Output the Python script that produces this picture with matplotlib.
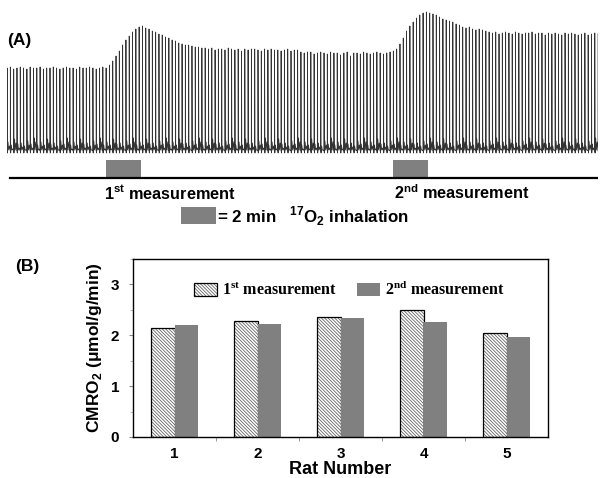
import matplotlib
matplotlib.use('Agg')
import matplotlib.pyplot as plt
import numpy as np
from matplotlib.patches import Rectangle

plt.rcParams['font.family'] = ['Liberation Sans', 'DejaVu Sans']
plt.rcParams['mathtext.fontset'] = 'custom'
plt.rcParams['mathtext.bf'] = 'Liberation Sans:bold'
plt.rcParams['mathtext.rm'] = 'Liberation Serif:bold'
plt.rcParams['hatch.linewidth'] = 0.6

# (A) trace: peak height of each beat (baseline = 0)
peaks = [80, 81, 79, 80, 81, 80, 79, 81, 80, 80, 81, 79, 80, 80, 81, 80, 79, 80, 81, 80,
         80, 79, 81, 80, 80, 81, 80, 79, 80, 81, 80,
         83, 87, 92, 97, 103, 108, 112, 116, 119, 121, 122,
         120, 119, 117, 116, 114, 113, 111, 110, 108, 107, 105, 104, 103, 103, 102, 101, 101, 100, 100,
         99, 100, 98, 99, 99, 98, 100, 99, 98, 99, 97, 99, 98, 99, 99, 98, 97, 99, 98, 99,
         98, 98, 97, 98, 99, 97, 98, 98,
         96, 95, 96, 96, 94, 95, 96, 95, 94, 96, 95, 95, 93, 95, 96, 92, 95, 95, 94, 96,
         95, 94, 95, 96, 95, 94, 95, 96, 97,
         99, 104, 110, 117, 122, 126, 130, 133, 135, 136,
         135, 134, 133, 131, 129, 128, 127, 126, 124, 123, 121, 120, 121, 119, 118, 119, 118, 117,
         116, 115, 116, 114, 115, 116, 115, 114, 116, 115, 114, 115, 115, 116, 114, 115, 115,
         113, 115, 114, 115, 114, 113, 115, 114, 115, 114, 113, 114, 115, 113, 114, 115, 114]
trace_minutes = 33.77
inhalation_starts = [5.66, 22.06]   # min
inhalation_len = 2.0                # min

# (B) bars
rats = [1, 2, 3, 4, 5]
first = [2.14, 2.29, 2.35, 2.49, 2.05]
second = [2.20, 2.23, 2.34, 2.26, 1.97]

fig = plt.figure(figsize=(6.03, 4.78), dpi=100)

# ---------------- panel A ----------------
axA = fig.add_axes([7/603, 1-230/478, 591/603, 220/478])
axA.set_xlim(0, trace_minutes)
axA.set_ylim(-82, 138)
axA.axis('off')

n = len(peaks)
P = trace_minutes / (n - 1)
bumps = [6, 3, 9, 4, 5, 2, 7, 4, 10, 3]
xs, ys = [], []
for i, pk in enumerate(peaks):
    t = i * P
    b = bumps[i % len(bumps)]
    xs += [t, t + 0.004, t + 0.02, t + 0.3*P, t + 0.5*P, t + 0.72*P]
    ys += [-3, pk, -5, b, -2, b - 4]
axA.plot(xs, ys, color='#333333', lw=0.6)

axA.plot([0.17, trace_minutes], [-30, -30], color='black', lw=1.6)
for s in inhalation_starts:
    axA.add_patch(Rectangle((s, -29), inhalation_len, 17, facecolor='#808080', edgecolor='none'))
axA.text(inhalation_starts[0] - 0.12, -45, '1$^{\\mathbf{st}}$ measurement', fontsize=11.7,
         fontweight='bold', ha='left', va='center')
axA.text(inhalation_starts[1] + 0.06, -45, '2$^{\\mathbf{nd}}$ measurement', fontsize=11.7,
         fontweight='bold', ha='left', va='center')
axA.add_patch(Rectangle((9.94, -76), inhalation_len, 17, facecolor='#808080', edgecolor='none'))
axA.text(12.0, -68, '= 2 min   ${}^{\\mathbf{17}}$O$_{\\mathbf{2}}$ inhalation', fontsize=12.2,
         fontweight='bold', ha='left', va='center')
fig.text(7/603, 1-40/478, '(A)', fontsize=12.5, fontweight='bold', ha='left', va='center')

# ---------------- panel B ----------------
axB = fig.add_axes([133/603, 41/478, 415/603, 178/478])
w = 0.28
x = np.array(rats)
b1 = axB.bar(x - w/2, first, width=w, facecolor='white', edgecolor='black', lw=0.9,
             hatch='\\\\\\\\\\\\\\\\\\\\', label='1$^{\\mathrm{st}}$ measurement')
b2 = axB.bar(x + w/2, second, width=w, facecolor='#808080', edgecolor='none',
             label='2$^{\\mathrm{nd}}$ measurement')
for p in b1:
    p._hatch_color = (0.4, 0.4, 0.4, 1)
axB.set_xlim(0.5, 5.5)
axB.set_ylim(0, 3.5)
axB.set_xticks(rats)
axB.set_xticks([1.5, 2.5, 3.5, 4.5], minor=True)
axB.set_yticks([0, 1, 2, 3])
axB.set_yticks([0.5, 1.5, 2.5, 3.5], minor=True)
axB.tick_params(axis='x', which='major', length=0, pad=7)
axB.tick_params(axis='x', which='minor', length=3, color='#888888', direction='out')
axB.tick_params(axis='y', which='major', length=3, color='#888888', pad=7)
axB.tick_params(axis='y', which='minor', length=2, color='#aaaaaa')
for lab in axB.get_xticklabels() + axB.get_yticklabels():
    lab.set_fontweight('bold')
    lab.set_fontsize(11)
for sp in axB.spines.values():
    sp.set_linewidth(1.0)
axB.set_ylabel('CMRO$_{\\mathbf{2}}$ (μmol/g/min)', fontsize=12.5, fontweight='bold', labelpad=5)
axB.set_xlabel('Rat Number', fontsize=13, fontweight='bold', labelpad=0)
axB.legend(handles=[b1, b2], ncol=2, loc='upper left', bbox_to_anchor=(0.125, 0.935),
           frameon=False, prop={'family': 'Liberation Serif', 'weight': 'bold', 'size': 11.5},
           handlelength=1.4, handleheight=0.85, handletextpad=0.3, columnspacing=1.3,
           borderaxespad=0.2)
fig.text(15/603, 1-266/478, '(B)', fontsize=12.5, fontweight='bold', ha='left', va='center')

fig.savefig('out.png', dpi=100)
